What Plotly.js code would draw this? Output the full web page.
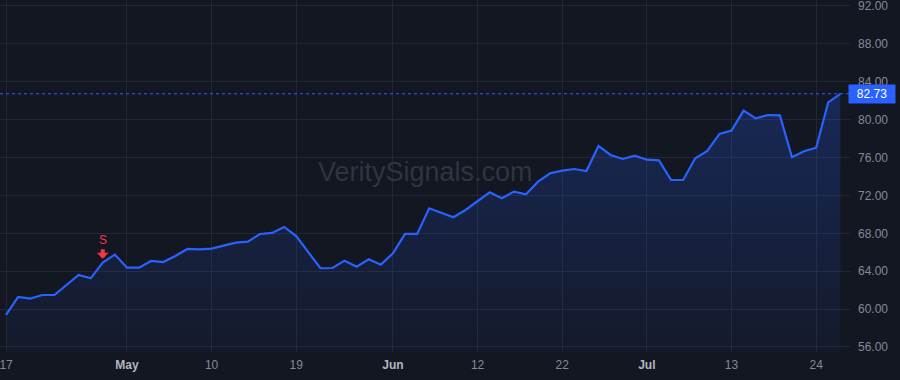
<!DOCTYPE html>
<html>
<head>
<meta charset="utf-8">
<script src="https://cdn.plot.ly/plotly-3.0.1.min.js"></script>
<style>
  html, body { margin: 0; padding: 0; background: #131722; }
  #chart { width: 900px; height: 380px; }
</style>
</head>
<body>
<div id="chart"></div>
<script>
// Trading days (US market, 2023-04-17 .. 2023-07-26)
const dates = [
  '2023-04-17','2023-04-18','2023-04-19','2023-04-20','2023-04-21','2023-04-24','2023-04-25','2023-04-26','2023-04-27','2023-04-28',
  '2023-05-01','2023-05-02','2023-05-03','2023-05-04','2023-05-05','2023-05-08','2023-05-09','2023-05-10','2023-05-11','2023-05-12',
  '2023-05-15','2023-05-16','2023-05-17','2023-05-18','2023-05-19','2023-05-22','2023-05-23','2023-05-24','2023-05-25','2023-05-26',
  '2023-05-30','2023-05-31','2023-06-01','2023-06-02','2023-06-05','2023-06-06','2023-06-07','2023-06-08','2023-06-09','2023-06-12',
  '2023-06-13','2023-06-14','2023-06-15','2023-06-16','2023-06-20','2023-06-21','2023-06-22','2023-06-23','2023-06-26','2023-06-27',
  '2023-06-28','2023-06-29','2023-06-30','2023-07-03','2023-07-05','2023-07-06','2023-07-07','2023-07-10','2023-07-11','2023-07-12',
  '2023-07-13','2023-07-14','2023-07-17','2023-07-18','2023-07-19','2023-07-20','2023-07-21','2023-07-24','2023-07-25','2023-07-26'
];

const closes = [
  59.38, 61.28, 61.10, 61.49, 61.49, 62.55, 63.60, 63.25, 64.90, 65.75,
  64.37, 64.37, 65.08, 64.97, 65.60, 66.35, 66.30, 66.38, 66.68, 67.01,
  67.12, 67.93, 68.04, 68.67, 67.70, 66.00, 64.31, 64.34, 65.11, 64.48,
  65.26, 64.69, 65.89, 67.93, 67.93, 70.64, 70.15, 69.69, 70.46, 71.38,
  72.33, 71.70, 72.40, 72.12, 73.45, 74.34, 74.62, 74.79, 74.58, 77.22,
  76.27, 75.85, 76.20, 75.77, 75.70, 73.63, 73.63, 75.92, 76.69, 78.49,
  78.84, 80.95, 80.14, 80.49, 80.46, 76.03, 76.66, 77.04, 81.83, 82.73
];

// x-axis ticks
const xTickDates = ['2023-04-17','2023-05-01','2023-05-10','2023-05-19','2023-06-01','2023-06-12','2023-06-22','2023-07-03','2023-07-13','2023-07-24'];
const xTickText  = ['17','May','10','19','Jun','12','22','Jul','13','24'];
const monthLabels = ['May','Jun','Jul'];

// y-axis ticks
const yTickVals = [56, 60, 64, 68, 72, 76, 80, 84, 88, 92];

// signals
const signalDates = ['2023-04-27'];
const signalLabels = ['S'];

const BLUE = '#2962FF';
const RED = '#F23645';
const BG = '#131722';
const GRID = '#232733';
const TXT = '#868993';
const FONT = 'Liberation Sans, Arial, sans-serif';

const yMin = 55.47, yMax = 92.63;
const lastVal = closes[closes.length - 1];

const tickText = xTickText.map(t => monthLabels.includes(t)
  ? '<span style="color:#b2b5be"><b>' + t + '</b></span>' : t);

const trace = {
  x: dates,
  y: closes,
  type: 'scatter',
  mode: 'lines',
  line: { color: BLUE, width: 2.2 },
  fill: 'tozeroy',
  fillgradient: {
    type: 'vertical',
    start: yMin,
    stop: Math.max(...closes),
    colorscale: [[0, 'rgba(41,98,255,0.04)'], [1, 'rgba(41,98,255,0.24)']]
  },
  hoverinfo: 'skip'
};

const annotations = [];
// watermark
annotations.push({
  xref: 'paper', yref: 'paper', x: 0.5, y: 0.511,
  text: 'VeritySignals.com', showarrow: false,
  font: { family: FONT, size: 27, color: '#30343f' }
});
// signals: block arrow + letter
signalDates.forEach((d, k) => {
  const idx = dates.indexOf(d);
  annotations.push({
    x: d, y: closes[idx], xref: 'x', yref: 'y',
    text: '', showarrow: true,
    ax: 0, ay: -15, standoff: 4,
    arrowhead: 1, arrowsize: 0.5, arrowwidth: 4, arrowcolor: RED
  });
  annotations.push({
    x: d, y: closes[idx], xref: 'x', yref: 'y',
    text: signalLabels[k], showarrow: false, yshift: 23,
    font: { family: FONT, size: 12, color: RED }
  });
});
// last price label
annotations.push({
  xref: 'paper', yref: 'y', x: 1, y: lastVal, xanchor: 'left', xshift: -2,
  text: lastVal.toFixed(2), showarrow: false,
  bgcolor: BLUE, borderpad: 2, width: 42,
  font: { family: FONT, size: 12, color: '#ffffff' }
});

const layout = {
  width: 900, height: 380,
  margin: { l: 0, r: 50, t: 0, b: 28 },
  paper_bgcolor: BG,
  plot_bgcolor: BG,
  showlegend: false,
  font: { family: FONT, size: 12, color: TXT },
  xaxis: {
    type: 'category',
    range: [-0.5, 69.8],
    tickmode: 'array',
    tickvals: xTickDates,
    ticktext: tickText,
    showgrid: true, gridcolor: GRID, gridwidth: 1,
    zeroline: false, showline: false,
    ticks: '', ticklabelstandoff: 4,
    tickfont: { size: 12, color: TXT },
    fixedrange: true
  },
  yaxis: {
    side: 'right',
    range: [yMin, yMax],
    tickmode: 'array',
    tickvals: yTickVals,
    ticktext: yTickVals.map(v => v.toFixed(2)),
    showgrid: true, gridcolor: GRID, gridwidth: 1,
    zeroline: false, showline: false,
    ticks: '', ticklabelstandoff: 7,
    ticklabeloverflow: 'allow',
    tickfont: { size: 12, color: TXT },
    fixedrange: true
  },
  shapes: [{
    type: 'line', xref: 'paper', yref: 'y',
    x0: 0, x1: 1, y0: lastVal, y1: lastVal,
    line: { color: BLUE, width: 1, dash: 'dot' }
  }],
  annotations: annotations
};

Plotly.newPlot('chart', [trace], layout, { displayModeBar: false, staticPlot: true });
</script>
</body>
</html>
